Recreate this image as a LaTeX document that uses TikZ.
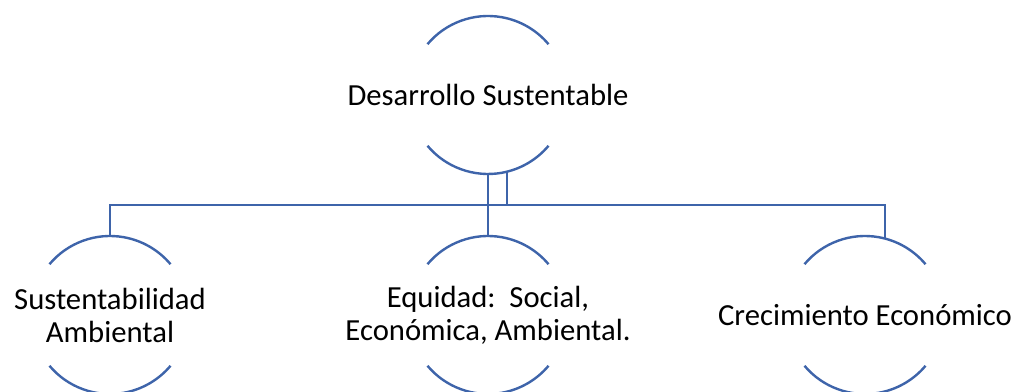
\documentclass[tikz,border=0pt]{standalone}
\usepackage{fontspec}
\setmainfont{Carlito}
\usetikzlibrary{calc}
\definecolor{arcblue}{RGB}{62,100,170}
\newcommand{\arcpair}[1]{%
  \draw[link] ([shift={(140:59.25pt)}]#1.center) arc[start angle=140,end angle=40,radius=59.25pt];
  \draw[link] ([shift={(220:59.25pt)}]#1.center) arc[start angle=220,end angle=320,radius=59.25pt];}

\begin{document}
\begin{tikzpicture}[x=0.75pt,y=0.75pt,
  link/.style={draw=arcblue,line width=1.8pt},
  lbl/.style={align=center,inner sep=0pt,font=\fontsize{23}{24.75}\selectfont}]
  \useasboundingbox (0,0) rectangle (1017,392);
  \node[lbl] (DS) at (488,297) {Desarrollo Sustentable};
  \node[lbl] (SA) at (110,77) {Sustentabilidad\\Ambiental};
  \node[lbl] (EQ) at (488,77) {Equidad:\ \ Social,\\Económica, Ambiental.};
  \node[lbl] (CE) at (865,77) {Crecimiento Económico};
  \arcpair{DS}
  \arcpair{SA}
  \arcpair{EQ}
  \arcpair{CE}
  \coordinate (DSb) at ($(DS.center)+(0,-79)$);
  \coordinate (DSj) at ($(DS.center)+(19,-76.7)$);
  \coordinate (SAt) at ($(SA.center)+(0,79)$);
  \coordinate (EQt) at ($(EQ.center)+(0,79)$);
  \coordinate (CEt) at ($(CE.center)+(20,76.4)$);
  \coordinate (bar) at ($(SAt)+(0,31)$);
  \draw[link] (DSb) -- (EQt);
  \draw[link] (DSj) -- (DSj |- bar);
  \draw[link] (SAt) -- (bar) -| (CEt);
\end{tikzpicture}
\end{document}
